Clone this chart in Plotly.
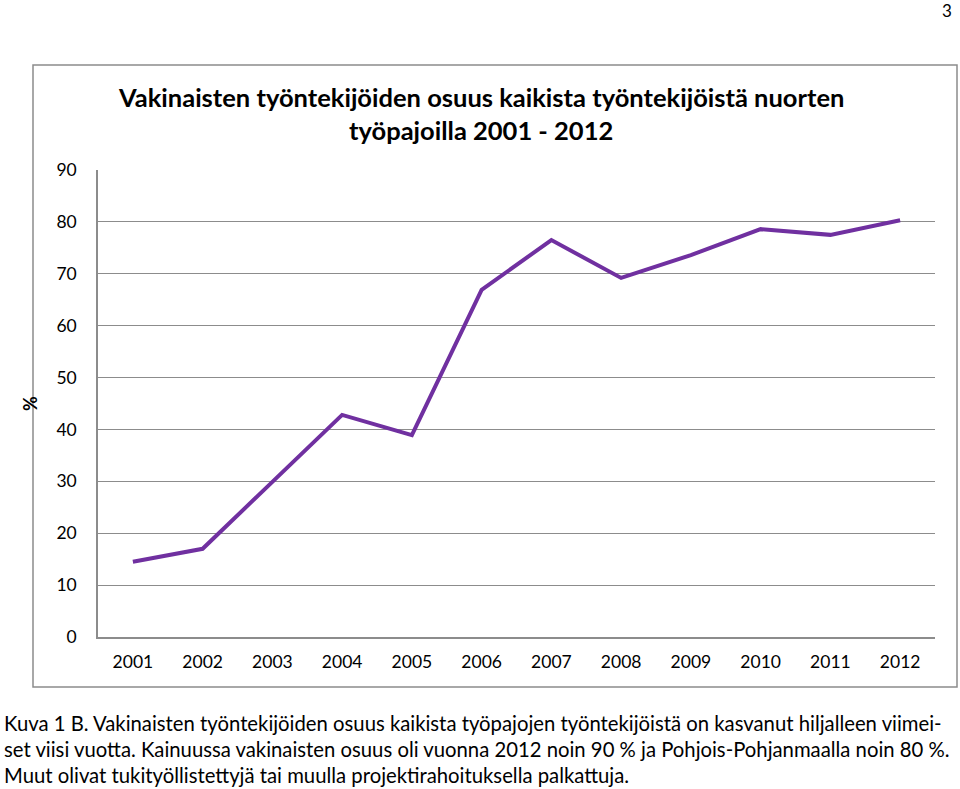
import plotly.graph_objects as go

years = ["2001", "2002", "2003", "2004", "2005", "2006", "2007", "2008", "2009", "2010", "2011", "2012"]
share = [14.5, 17.0, 29.9, 42.8, 38.9, 66.9, 76.5, 69.2, 73.6, 78.6, 77.5, 80.3]
y_ticks = [0, 10, 20, 30, 40, 50, 60, 70, 80, 90]

title_lines = ["Vakinaisten työntekijöiden osuus kaikista työntekijöistä nuorten",
               "työpajoilla 2001 - 2012"]
caption_lines = [
    "Kuva 1 B. Vakinaisten työntekijöiden osuus kaikista työpajojen työntekijöistä on kasvanut hiljalleen viimei-",
    "set viisi vuotta. Kainuussa vakinaisten osuus oli vuonna 2012 noin 90 % ja Pohjois-Pohjanmaalla noin 80 %.",
    "Muut olivat tukityöllistettyjä tai muulla projektirahoituksella palkattuja.",
]

FONT = "Lato, Open Sans, DejaVu Sans, sans-serif"
W, H = 960, 789
L, R, T, B = 98, 25, 170, 152
pw = W - L - R
ph = H - T - B

def px(x):
    return (x - L) / pw

def py(y):
    return (H - B - y) / ph

fig = go.Figure()
fig.add_trace(go.Scatter(
    x=years, y=share, mode="lines",
    line=dict(color="#7030A0", width=4),
    hoverinfo="x+y", showlegend=False,
))

fig.update_layout(
    width=W, height=H,
    margin=dict(l=L, r=R, t=T, b=B),
    paper_bgcolor="white", plot_bgcolor="white",
    font=dict(family=FONT, size=16, color="#000000"),
    xaxis=dict(
        type="category", range=[-0.5, 11.5],
        showgrid=False, showline=True, linecolor="#8c8c8c", linewidth=1.5,
        ticks="", tickfont=dict(size=17.5, family=FONT), ticklabelstandoff=8,
        fixedrange=True,
    ),
    yaxis=dict(
        range=[0, 90], tickvals=y_ticks,
        showgrid=True, gridcolor="#8c8c8c", gridwidth=1.2,
        showline=True, linecolor="#8c8c8c", linewidth=1.5,
        zeroline=False, ticks="", tickfont=dict(size=17.5, family=FONT),
        ticklabelstandoff=16,
        title=dict(text="<b>%</b>", font=dict(size=18, family=FONT), standoff=14),
        fixedrange=True,
    ),
)

# outer chart border
fig.add_shape(type="rect", xref="paper", yref="paper",
              x0=px(33), x1=px(957), y0=py(687), y1=py(65),
              line=dict(color="#8c8c8c", width=1.5), layer="below")

# title
for i, line in enumerate(title_lines):
    fig.add_annotation(text="<b>" + line + "</b>", xref="paper", yref="paper",
                       x=px(481), y=py(97 + i * 33), xanchor="center", yanchor="middle",
                       showarrow=False, font=dict(size=25.5, family=FONT, color="#000"))

# page number
fig.add_annotation(text="3", xref="paper", yref="paper", x=px(954), y=py(10),
                   xanchor="right", yanchor="middle", showarrow=False,
                   font=dict(size=17, family=FONT, color="#000"))

# caption
for i, line in enumerate(caption_lines):
    fig.add_annotation(text=line, xref="paper", yref="paper",
                       x=px(2), y=py(723 + i * 26), xanchor="left", yanchor="middle",
                       showarrow=False, font=dict(size=20.3, family=FONT, color="#000"))

fig.write_html("out.html", config={"displayModeBar": False},
               post_script="document.body.style.margin='0';document.body.style.overflow='hidden';")
